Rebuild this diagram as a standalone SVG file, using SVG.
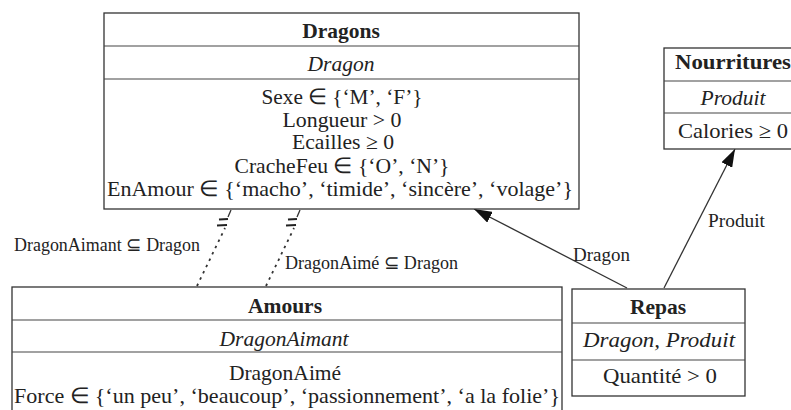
<svg xmlns="http://www.w3.org/2000/svg" width="791" height="410" viewBox="0 0 791 410">
<defs>
<style>
.box{fill:#fff;stroke:#333;stroke-width:1.3}
.sep{stroke:#444;stroke-width:1.2}
text{font-family:"Liberation Serif","Times New Roman",serif;fill:#222;font-size:21.5px;text-anchor:middle}
.t{font-weight:bold}
.k{font-style:italic}
.lbl{font-size:18.5px;text-anchor:start}
.conn{stroke:#333;stroke-width:1.3;fill:none}
.dot{stroke:#333;stroke-width:1.8;fill:none;stroke-dasharray:2.5 4.5}
.bar{stroke:#222;stroke-width:2.2}
</style>
<marker id="arr" markerWidth="18" markerHeight="12" viewBox="0 0 18 12" refX="18" refY="6" orient="auto" markerUnits="userSpaceOnUse">
<path d="M0,0 L18,6 L0,12 Z" fill="#111"/>
</marker>
</defs>
<rect width="791" height="410" fill="#fff"/>

<g id="connectors">
<line class="conn" x1="627" y1="288" x2="474" y2="209" marker-end="url(#arr)"/>
<line class="conn" x1="664" y1="288" x2="735" y2="149" marker-end="url(#arr)"/>
<line class="dot" x1="197" y1="286" x2="225" y2="228"/>
<line class="conn" x1="228" y1="217" x2="231" y2="210"/>
<line class="bar" x1="219" y1="219.5" x2="228" y2="219"/>
<line class="bar" x1="217" y1="225.5" x2="227" y2="225"/>
<line class="dot" x1="266" y1="286" x2="294" y2="228"/>
<line class="conn" x1="297" y1="217" x2="300" y2="210"/>
<line class="bar" x1="288" y1="219.5" x2="297" y2="219"/>
<line class="bar" x1="286" y1="225.5" x2="296" y2="225"/>
<text class="lbl" x="14" y="251" textLength="186" lengthAdjust="spacingAndGlyphs">DragonAimant ⊆ Dragon</text>
<text class="lbl" x="285" y="269" textLength="173" lengthAdjust="spacingAndGlyphs">DragonAimé ⊆ Dragon</text>
<text class="lbl" x="573" y="261" textLength="57" lengthAdjust="spacingAndGlyphs">Dragon</text>
<text class="lbl" x="708" y="227" textLength="57" lengthAdjust="spacingAndGlyphs">Produit</text>
</g>

<g id="Dragons">
<rect class="box" x="104" y="13" width="475" height="196"/>
<line class="sep" x1="104" y1="46" x2="579" y2="46"/>
<line class="sep" x1="104" y1="79" x2="579" y2="79"/>
<text class="t" x="341" y="38" font-size="22">Dragons</text>
<text class="k" x="341" y="71">Dragon</text>
<text x="342" y="104" textLength="161" lengthAdjust="spacingAndGlyphs">Sexe ∈ {‘M’, ‘F’}</text>
<text x="342" y="127" textLength="119" lengthAdjust="spacingAndGlyphs">Longueur &gt; 0</text>
<text x="343" y="149" textLength="102" lengthAdjust="spacingAndGlyphs">Ecailles ≥ 0</text>
<text x="342" y="173" textLength="215" lengthAdjust="spacingAndGlyphs">CracheFeu ∈ {‘O’, ‘N’}</text>
<text x="340" y="196" textLength="466" lengthAdjust="spacingAndGlyphs">EnAmour ∈ {‘macho’, ‘timide’, ‘sincère’, ‘volage’}</text>
</g>

<g id="Nourritures">
<rect class="box" x="664" y="48" width="140" height="101"/>
<line class="sep" x1="664" y1="81" x2="804" y2="81"/>
<line class="sep" x1="664" y1="113" x2="804" y2="113"/>
<text class="t" x="733" y="69" textLength="116" lengthAdjust="spacingAndGlyphs">Nourritures</text>
<text class="k" x="733" y="105">Produit</text>
<text x="733" y="138" textLength="110" lengthAdjust="spacingAndGlyphs">Calories ≥ 0</text>
</g>

<g id="Amours">
<rect class="box" x="12" y="287" width="550" height="140"/>
<line class="sep" x1="12" y1="320" x2="562" y2="320"/>
<line class="sep" x1="12" y1="352" x2="562" y2="352"/>
<text class="t" x="285" y="313">Amours</text>
<text class="k" x="284" y="346">DragonAimant</text>
<text x="285" y="380">DragonAimé</text>
<text x="287" y="403" textLength="546" lengthAdjust="spacingAndGlyphs">Force ∈ {‘un peu’, ‘beaucoup’, ‘passionnement’, ‘a la folie’}</text>
</g>

<g id="Repas">
<rect class="box" x="572" y="289" width="173" height="107"/>
<line class="sep" x1="572" y1="323" x2="745" y2="323"/>
<line class="sep" x1="572" y1="360" x2="745" y2="360"/>
<text class="t" x="658" y="314" font-size="22">Repas</text>
<text class="k" x="659" y="347" textLength="152" lengthAdjust="spacingAndGlyphs">Dragon, Produit</text>
<text x="660" y="383" textLength="114" lengthAdjust="spacingAndGlyphs">Quantité &gt; 0</text>
</g>
</svg>
